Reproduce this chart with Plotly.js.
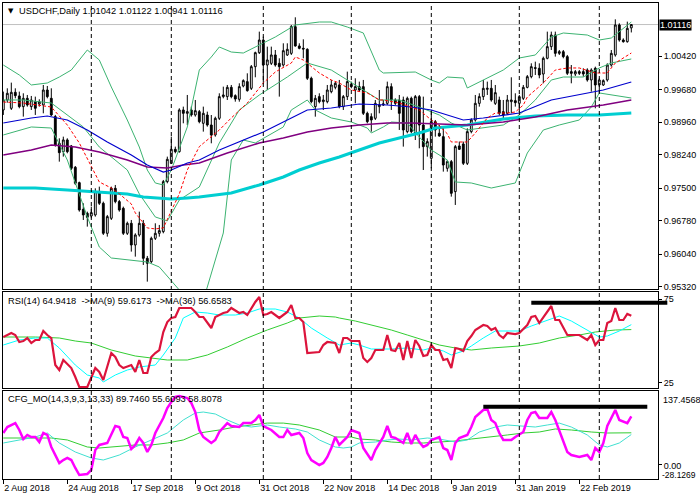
<!DOCTYPE html>
<html><head><meta charset="utf-8">
<script src="https://cdn.plot.ly/plotly-3.0.1.min.js"></script>
<style>html,body{margin:0;padding:0;background:#fff;}#chart{width:700px;height:500px;}</style>
</head><body><div id="chart"></div>
<script>
const symbol = 'USDCHF', timeframe = 'Daily';
const open = [0.99226,0.99447,0.99263,0.99617,0.99536,0.99300,0.99484,0.99300,0.99410,0.99359,
0.99337,0.99668,0.99484,0.99079,0.98489,0.98304,0.98563,0.98430,0.97958,0.97619,
0.97029,0.96940,0.96881,0.96904,0.97420,0.97162,0.96498,0.96830,0.97493,0.97199,
0.97051,0.96498,0.96719,0.96240,0.96461,0.96719,0.95945,0.95871,0.96387,0.96498,
0.96535,0.97641,0.98046,0.98356,0.98304,0.99226,0.99152,0.99226,0.99116,0.99189,
0.98931,0.99115,0.98894,0.98673,0.99042,0.99521,0.99521,0.99727,0.99543,0.99462,
0.99757,0.99853,0.99705,1.00184,1.00494,1.00774,1.00221,1.00258,1.00443,1.00258,
1.00221,1.00443,1.00479,1.01069,1.00642,1.00590,1.00568,0.99927,0.99300,0.99521,
0.99410,0.99410,0.99631,0.99727,0.99779,0.99300,0.99521,0.99794,0.99668,0.99742,
0.99742,0.99152,0.99078,0.99042,0.99300,0.99337,0.99373,0.99742,0.99447,0.99447,
0.99447,0.98747,0.99484,0.98710,0.99521,0.98894,0.98415,0.98157,0.98968,0.98710,
0.98636,0.97936,0.98083,0.97420,0.98430,0.98474,0.98046,0.98747,0.99005,0.99373,
0.99521,0.99683,0.99705,0.99373,0.99447,0.99189,0.99152,0.99410,0.99432,0.99373,
0.99484,0.99727,0.99963,1.00162,1.00148,1.00022,1.00369,1.00627,1.00885,1.00479,
1.00516,1.00406,1.00074,1.00022,1.00074,1.00074,1.00111,0.99890,1.00148,0.99779,
0.99779,0.99890,1.00221,1.00443,1.01106,1.00774,1.00737,1.01042];
const high = [0.99632,0.99705,0.99831,0.99705,0.99632,0.99595,0.99558,0.99536,0.99521,0.99462,
0.99779,0.99757,0.99705,0.99116,0.98599,0.98636,0.98599,0.98452,0.97987,0.97641,
0.97162,0.96977,0.97088,0.97493,0.97530,0.97199,0.96904,0.97530,0.97567,0.97235,
0.97088,0.96756,0.96793,0.96498,0.96977,0.96793,0.95997,0.96424,0.96719,0.96683,
0.97678,0.98194,0.98636,0.98415,0.99263,0.99300,0.99558,0.99300,0.99447,0.99226,
0.99300,0.99189,0.99115,0.99078,0.99595,0.99742,0.99779,0.99779,0.99572,0.99816,
0.99904,1.00037,1.00221,1.00516,1.00959,1.00848,1.00627,1.00627,1.00553,1.00369,
1.00701,1.00701,1.01106,1.01276,1.00701,1.00789,1.00590,0.99963,0.99558,0.99595,
0.99558,0.99779,0.99890,0.99853,0.99890,0.99558,1.00074,0.99853,0.99927,0.99853,
0.99890,0.99189,0.99152,0.99447,0.99668,0.99447,0.99853,0.99816,0.99484,0.99558,
0.99521,0.99521,0.99521,0.99558,0.99558,0.99521,0.98599,0.99226,0.99005,0.98894,
0.98857,0.98120,0.98120,0.98452,0.98526,0.98526,0.98820,0.99042,0.99558,0.99595,
0.99890,0.99853,0.99890,0.99779,0.99521,0.99447,0.99558,0.99949,0.99595,0.99558,
0.99779,1.00000,1.00258,1.00295,1.00258,1.00406,1.00959,1.00959,1.00959,1.00553,
1.00553,1.00443,1.00221,1.00111,1.00111,1.00148,1.00148,1.00148,1.00184,0.99927,
0.99904,1.00258,1.00553,1.01231,1.01143,1.00811,1.01180,1.01122];
const low = [0.99116,0.99388,0.99226,0.99484,0.99263,0.99079,0.99300,0.99226,0.99116,0.99300,
0.99152,0.99484,0.99093,0.98415,0.98083,0.98194,0.98268,0.97899,0.97567,0.96977,
0.96793,0.96646,0.96830,0.96867,0.97125,0.96461,0.96424,0.96793,0.97162,0.96977,
0.96461,0.96461,0.96093,0.95982,0.96424,0.95798,0.95429,0.95835,0.96350,0.96424,
0.96498,0.97604,0.98032,0.98268,0.98282,0.98931,0.98894,0.99079,0.99079,0.98931,
0.98747,0.98857,0.98489,0.98636,0.99005,0.99484,0.99447,0.99484,0.99410,0.99410,
0.99727,0.99631,0.99668,0.99949,1.00465,0.99816,0.99668,1.00221,1.00184,0.99521,
1.00184,1.00420,1.00443,1.00627,1.00568,1.00369,0.99890,0.99373,0.99078,0.99373,
0.99226,0.99373,0.99595,0.99683,0.99263,0.99226,0.99447,0.99705,0.99373,0.99631,
0.99115,0.98931,0.98747,0.99005,0.99152,0.99314,0.99337,0.99226,0.99337,0.98784,
0.98415,0.98710,0.98710,0.98562,0.98378,0.97899,0.98194,0.97936,0.98636,0.98636,
0.97862,0.97862,0.97309,0.97125,0.98341,0.98009,0.98009,0.98710,0.98968,0.99300,
0.99447,0.99558,0.99410,0.99337,0.99115,0.99042,0.99115,0.99152,0.99300,0.99189,
0.99447,0.99705,0.99927,1.00000,0.99927,0.99816,1.00347,1.00553,1.00406,1.00443,
1.00369,1.00000,0.99816,0.99978,1.00000,0.99963,0.99853,0.99631,0.99263,0.99595,
0.99757,0.99853,1.00184,1.00406,1.00737,1.00715,1.00715,1.00941];
const close = [0.99447,0.99595,0.99617,0.99543,0.99300,0.99484,0.99337,0.99447,0.99263,0.99410,
0.99668,0.99521,0.99116,0.98452,0.98282,0.98563,0.98304,0.97936,0.97604,0.97014,
0.96904,0.96852,0.96955,0.97420,0.97162,0.96498,0.96867,0.97493,0.97199,0.97014,
0.96498,0.96719,0.96240,0.96461,0.96719,0.95945,0.95835,0.96387,0.96498,0.96557,
0.97641,0.98135,0.98356,0.98304,0.99226,0.99152,0.99189,0.99116,0.99211,0.98968,
0.99152,0.98894,0.98673,0.99042,0.99521,0.99558,0.99727,0.99521,0.99469,0.99742,
0.99875,0.99654,1.00184,1.00494,1.00774,1.00221,1.00332,1.00443,1.00221,1.00184,
1.00538,1.00568,1.01069,1.00642,1.00590,1.00575,0.99927,0.99410,0.99484,0.99410,
0.99447,0.99668,0.99779,0.99816,0.99300,0.99521,0.99853,0.99742,0.99742,0.99668,
0.99152,0.98968,0.99005,0.99373,0.99337,0.99359,0.99742,0.99447,0.99373,0.99152,
0.98784,0.99484,0.98747,0.99521,0.98894,0.98415,0.98526,0.98968,0.98784,0.98651,
0.98009,0.98083,0.97383,0.98415,0.98356,0.98046,0.98747,0.99005,0.99373,0.99521,
0.99705,0.99705,0.99447,0.99609,0.99152,0.99115,0.99447,0.99447,0.99388,0.99521,
0.99727,0.99963,1.00184,1.00148,1.00000,1.00369,1.00627,1.00885,1.00479,1.00516,
1.00406,1.00037,1.00037,1.00074,1.00037,1.00022,0.99890,1.00111,0.99779,0.99890,
0.99875,1.00221,1.00479,1.01106,1.00774,1.00737,1.01032,1.01116];

// x axis: trading-day index, labels every 16 bars, month separators
const tickBars = [0,16,32,48,64,80,96,112,128,144];
const tickLabels = ['2 Aug 2018','24 Aug 2018','17 Sep 2018','9 Oct 2018','31 Oct 2018','22 Nov 2018','14 Dec 2018','9 Jan 2019','31 Jan 2019','22 Feb 2019'];
const monthStartBars = [22,42,65,87,107,129,149];
const priceTicks = [0.95320,0.96040,0.96780,0.97500,0.98240,0.98960,0.99680,1.00420];
const rsiTicks = [25,75];

// indicators: [bar, value]
const bbUpper = [[0,1.00221],[4,1.00000],[7,0.99779],[11,0.99823],[14,0.99955],[17,1.00110],[19,1.00332],[21,1.00553],[24,1.00332],[27,0.99734],[31,0.99004],[34,0.98407],[36,0.97898],[38,0.97611],[40,0.97567],[42,0.97898],[46,0.98850],[49,1.00110],[52,1.00398],[54,1.00619],[57,1.00508],[60,1.00486],[64,1.00663],[68,1.00840],[73,1.01106],[79,1.01172],[82,1.01172],[86,1.01061],[90,1.00929],[94,1.00110],[95,1.00044],[103,1.00066],[107,0.99889],[109,0.99823],[111,0.99955],[115,0.99933],[116,0.99712],[120,0.99889],[125,1.00110],[129,1.00376],[133,1.00442],[137,1.00840],[140,1.00929],[146,1.00884],[149,1.00774],[152,1.00818],[157,1.01172]];
const bbMiddle = [[0,0.99447],[5,0.99447],[12,0.99380],[20,0.98850],[24,0.98407],[31,0.97898],[34,0.97370],[38,0.96859],[41,0.96772],[44,0.97235],[49,0.97522],[54,0.98496],[59,0.99226],[64,0.99557],[71,0.99955],[76,1.00265],[82,1.00110],[86,0.99889],[91,0.99602],[94,0.99447],[99,0.99447],[104,0.99292],[109,0.99115],[112,0.98938],[116,0.98783],[120,0.98827],[125,0.98894],[129,0.99115],[133,0.99447],[137,0.99889],[140,0.99955],[145,0.99955],[149,1.00155],[152,1.00265],[157,1.00354]];
const bbLower = [[0,0.98673],[4,0.98783],[7,0.98850],[12,0.98827],[16,0.98120],[21,0.96859],[24,0.96195],[27,0.95952],[32,0.95907],[36,0.95863],[39,0.95753],[44,0.95244],[47,0.94580],[50,0.95022],[51,0.95310],[55,0.96505],[57,0.98120],[60,0.98562],[63,0.98496],[70,0.98850],[72,0.99226],[76,0.99447],[78,0.99226],[82,0.99049],[87,0.98960],[91,0.98827],[92,0.98717],[95,0.98850],[97,0.98960],[101,0.98938],[104,0.98628],[107,0.98341],[111,0.98120],[113,0.97633],[117,0.97611],[122,0.97500],[128,0.97611],[131,0.98274],[135,0.98783],[139,0.98894],[144,0.99004],[147,0.99292],[149,0.99602],[152,0.99557],[157,0.99491]];
const maFast = [[0,0.99402],[5,0.99380],[12,0.99292],[16,0.98894],[19,0.98496],[22,0.97965],[24,0.97633],[27,0.97500],[29,0.97370],[32,0.97148],[33,0.96949],[36,0.96617],[38,0.96595],[40,0.96617],[42,0.96994],[44,0.97370],[46,0.97898],[49,0.98415],[50,0.98489],[54,0.98783],[57,0.99050],[61,0.99380],[63,0.99600],[65,0.99823],[68,1.00066],[72,1.00265],[73,1.00398],[75,1.00332],[79,1.00044],[82,0.99889],[84,0.99823],[87,0.99668],[91,0.99602],[94,0.99447],[95,0.99447],[99,0.99380],[104,0.99226],[107,0.99004],[108,0.98960],[111,0.98700],[112,0.98518],[116,0.98518],[118,0.98717],[121,0.99049],[123,0.99159],[126,0.99159],[128,0.99181],[130,0.99336],[131,0.99513],[133,0.99668],[135,0.99823],[138,1.00110],[141,1.00155],[144,1.00155],[148,1.00044],[151,1.00044],[153,1.00265],[157,1.00486]];
const maMid = [[0,0.98938],[7,0.99049],[11,0.99093],[16,0.99004],[21,0.98783],[26,0.98518],[32,0.98230],[36,0.98009],[40,0.97854],[42,0.97898],[46,0.98053],[49,0.98120],[54,0.98341],[60,0.98562],[65,0.98739],[71,0.99004],[76,0.99226],[82,0.99270],[89,0.99358],[96,0.99336],[102,0.99292],[107,0.99226],[111,0.99115],[115,0.99004],[120,0.99049],[129,0.99159],[137,0.99447],[144,0.99557],[150,0.99668],[157,0.99845]];
const maSlow = [[0,0.98230],[7,0.98341],[12,0.98451],[18,0.98407],[24,0.98296],[31,0.98120],[36,0.97965],[41,0.97943],[45,0.98009],[49,0.98053],[56,0.98274],[64,0.98496],[70,0.98606],[76,0.98739],[82,0.98827],[89,0.98894],[96,0.98938],[102,0.98938],[109,0.98916],[116,0.98894],[125,0.98960],[133,0.99071],[141,0.99226],[150,0.99336],[157,0.99447]];
const ma200 = [[0,0.97500],[8,0.97500],[16,0.97456],[24,0.97412],[31,0.97367],[35,0.97301],[39,0.97279],[42,0.97257],[46,0.97279],[49,0.97301],[57,0.97390],[64,0.97567],[70,0.97744],[74,0.97898],[79,0.98053],[84,0.98186],[89,0.98341],[94,0.98496],[99,0.98606],[104,0.98717],[108,0.98827],[116,0.98894],[125,0.99026],[133,0.99093],[141,0.99115],[149,0.99115],[157,0.99159]];

const rsi = [[0,52.2],[2,54.6],[3,53.4],[4,49.2],[5,49.8],[6,51.6],[7,48.6],[8,50.4],[9,50.4],[10,55.8],[11,53.4],[12,51.6],[13,35.4],[14,32.4],[15,38.4],[17,33.6],[18,28.2],[19,22.2],[21,22.2],[23,33.6],[24,31.2],[25,26.4],[27,42.6],[28,40.2],[29,35.4],[30,33.6],[32,35.4],[33,31.2],[34,38.4],[35,30.6],[36,30.6],[37,40.2],[38,42.6],[39,44.4],[40,55.2],[41,61.2],[42,63.6],[43,64.2],[44,69.6],[47,69.6],[48,67.2],[49,64.2],[50,64.2],[52,57.6],[53,64.2],[55,66.6],[56,67.2],[57,69.6],[59,66.6],[60,67.2],[61,65.4],[63,73.2],[64,76.2],[65,65.4],[66,66.0],[67,67.2],[69,63.6],[70,65.4],[71,67.2],[72,71.4],[73,63.6],[74,63.6],[75,61.2],[76,42.6],[78,43.2],[79,43.2],[80,47.4],[81,49.2],[83,48.6],[84,42.6],[85,51.6],[86,51.6],[87,49.8],[89,49.8],[90,39.6],[91,37.2],[92,39.6],[93,44.4],[95,44.4],[96,53.4],[97,44.4],[98,43.8],[99,48.6],[100,38.4],[101,49.8],[102,39.6],[103,50.4],[104,46.8],[105,40.8],[106,41.4],[107,47.4],[108,44.4],[109,44.4],[110,38.4],[111,39.0],[112,33.6],[113,45.6],[114,45.0],[115,43.8],[116,49.8],[117,52.8],[118,56.4],[120,59.4],[121,58.8],[122,56.4],[123,57.6],[124,53.4],[125,51.6],[126,54.6],[128,54.0],[129,54.6],[131,59.4],[132,64.2],[133,64.8],[134,60.6],[137,70.8],[138,62.4],[139,62.4],[141,53.4],[143,53.4],[144,53.4],[146,50.4],[147,53.4],[148,47.4],[149,50.4],[150,50.4],[151,60.6],[152,61.8],[153,69.6],[154,62.4],[155,62.4],[156,66.0],[157,64.9418]];
const rsiMa9 = [[0,47.4],[4,50.4],[8,51.6],[11,51.6],[14,45.6],[18,35.4],[21,29.4],[24,27.6],[25,25.2],[28,29.4],[31,32.4],[34,34.2],[38,35.4],[40,41.4],[43,51.6],[45,63.6],[48,67.2],[51,66.6],[54,65.4],[58,65.4],[61,66.6],[64,69.0],[68,69.0],[71,67.2],[74,63.6],[77,57.6],[81,51.6],[84,47.4],[87,48.6],[89,47.4],[92,45.0],[97,45.0],[101,45.6],[105,44.4],[107,45.6],[110,43.8],[112,41.4],[115,43.8],[117,46.8],[120,51.6],[123,55.8],[127,55.8],[129,55.8],[132,58.8],[136,62.4],[139,64.8],[142,61.8],[146,56.4],[149,52.2],[151,52.8],[154,55.8],[157,59.6173]];
const rsiMa36 = [[0,52.2],[8,52.2],[14,51.6],[18,49.8],[22,48.6],[27,44.4],[33,40.8],[37,39.6],[41,38.4],[46,38.4],[51,41.4],[56,46.2],[61,51.6],[66,56.4],[71,60.6],[74,63.6],[79,64.8],[83,64.2],[84,63.6],[88,61.8],[92,59.4],[97,56.4],[101,53.4],[105,50.4],[109,47.4],[113,45.6],[117,44.4],[122,45.6],[129,46.8],[134,48.6],[139,51.6],[144,53.4],[148,55.2],[153,56.4],[157,56.6583]];

const cfgMain = [[0,58.4],[1,69.7],[3,77.1],[4,64.1],[5,47.1],[6,54.7],[7,50.9],[8,50.9],[9,41.5],[10,58.4],[11,54.7],[12,32.1],[14,2.0],[15,7.6],[16,11.4],[17,7.6],[18,-7.4],[19,-20.6],[21,-18.7],[22,-11.2],[23,26.4],[24,35.9],[26,39.6],[28,71.6],[29,69.7],[30,50.9],[31,49.0],[32,28.3],[33,35.9],[34,49.0],[35,39.6],[36,22.7],[37,35.9],[38,58.4],[40,86.6],[41,105.5],[42,116.8],[43,126.2],[44,128.0],[46,124.3],[47,114.9],[48,97.9],[49,64.1],[50,50.9],[52,39.6],[53,45.3],[54,60.3],[56,77.1],[57,71.6],[59,69.7],[60,77.1],[62,77.1],[63,82.9],[64,92.3],[65,71.6],[67,64.1],[69,50.9],[70,50.9],[71,64.1],[72,54.7],[74,58.4],[75,49.0],[76,20.8],[77,7.6],[79,-1.8],[80,2.0],[81,13.3],[82,30.2],[83,50.9],[84,35.9],[86,50.9],[87,64.1],[89,58.4],[90,30.2],[92,7.6],[93,26.4],[95,50.9],[96,71.6],[97,50.9],[98,49.0],[100,39.6],[101,58.4],[102,37.7],[103,54.7],[104,41.5],[105,32.1],[106,35.9],[107,45.3],[109,50.9],[110,30.2],[111,26.4],[112,7.6],[113,39.6],[114,49.0],[116,54.7],[117,69.7],[118,88.5],[120,101.7],[121,103.6],[122,82.9],[123,77.1],[124,58.4],[125,45.3],[127,45.3],[128,50.9],[130,60.3],[131,82.9],[132,96.1],[133,97.9],[134,86.6],[136,86.6],[137,97.9],[138,82.9],[139,64.1],[140,41.5],[141,22.7],[142,17.0],[144,13.3],[146,17.0],[147,7.6],[148,30.2],[149,22.7],[150,39.6],[151,71.6],[153,101.7],[154,82.9],[156,77.1],[157,89.7460]];
const cfgSignal = [[0,39.6],[4,45.3],[8,50.9],[11,58.4],[14,39.6],[18,22.7],[22,11.4],[25,7.6],[29,17.0],[33,32.1],[37,45.3],[41,58.4],[45,82.9],[48,96.1],[50,97.9],[53,94.2],[56,82.9],[59,73.5],[62,69.7],[66,73.5],[69,69.7],[73,66.0],[76,60.3],[79,45.3],[83,32.1],[85,30.2],[87,32.1],[89,39.6],[93,41.5],[96,45.3],[99,47.1],[102,45.3],[106,49.0],[109,47.1],[113,41.5],[116,45.3],[119,60.3],[123,69.7],[126,73.5],[129,71.6],[133,69.7],[136,73.5],[139,77.1],[142,69.7],[146,54.7],[149,35.9],[151,32.1],[154,39.6],[157,55.6093]];
const cfgSlow = [[0,49.0],[8,49.0],[12,49.0],[16,45.3],[21,32.1],[24,30.2],[29,33.9],[33,35.9],[37,35.9],[41,39.6],[45,45.3],[49,58.4],[54,64.1],[58,69.7],[62,73.5],[66,77.1],[70,77.1],[74,73.5],[79,64.1],[83,50.9],[87,50.9],[89,47.1],[93,45.3],[97,41.5],[101,39.6],[105,39.6],[109,41.5],[113,43.4],[117,47.1],[122,50.9],[126,54.7],[130,58.4],[134,60.3],[138,66.0],[142,64.1],[147,60.3],[151,58.4],[157,58.8078]];
const cfgRange = [-28.1269, 137.4568];
const rsiLevel = [132, 166, 72.8];   // drawn horizontal line: from bar, to bar, value
const cfgLevel = [120, 161, 108.0];

const FONT = '"Liberation Sans", Arial, sans-serif';
const bars = close.map((_, i) => i);
const last = close.length - 1;
const xr = [-0.075, 163.675];
const toPaperX = b => (b - xr[0]) / (xr[1] - xr[0]);

function line(pairs, xa, ya, color, width, dash) {
  return {type:'scatter', mode:'lines', x:pairs.map(p=>p[0]), y:pairs.map(p=>p[1]),
    xaxis:xa, yaxis:ya, line:{color:color, width:width, dash:dash||'solid'}, hoverinfo:'skip'};
}

const traces = [
  line(bbUpper,'x','y','#3cb371',1),
  line(bbMiddle,'x','y','#3cb371',1),
  line(bbLower,'x','y','#3cb371',1),
  line(ma200,'x','y','#00ced1',3),
  line(maSlow,'x','y','#800080',1.5),
  line(maMid,'x','y','#0000cd',1.2),
  line(maFast,'x','y','#ff0000',1,'3px,2px'),
  {type:'candlestick', x:bars, open:open, high:high, low:low, close:close, xaxis:'x', yaxis:'y',
   increasing:{line:{color:'#000', width:1}, fillcolor:'#ffffff'},
   decreasing:{line:{color:'#000', width:1}, fillcolor:'#000000'},
   whiskerwidth:0, hoverinfo:'skip'},
  line(rsiMa36,'x2','y2','#32cd32',1),
  line(rsiMa9,'x2','y2','#00ffff',1),
  line(rsi,'x2','y2','#dc143c',2.2),
  line(cfgSlow,'x3','y3','#32cd32',1),
  line(cfgSignal,'x3','y3','#40e0d0',1),
  line(cfgMain,'x3','y3','#ff00ff',2.5)
];

const baseX = {range:xr, showgrid:false, zeroline:false, showline:true, mirror:true,
  linecolor:'#000', linewidth:1, showticklabels:false, ticks:'', fixedrange:true, rangeslider:{visible:false}};
const baseY = {side:'right', showgrid:false, zeroline:false, showline:true, mirror:true,
  linecolor:'#000', linewidth:1, ticks:'outside', ticklen:3, tickcolor:'#000', fixedrange:true,
  tickfont:{family:FONT, size:9, color:'#000'}};

const shapes = monthStartBars.map(b => ({type:'line', xref:'x', yref:'paper', x0:b, x1:b, y0:0, y1:1,
  layer:'above', line:{color:'#000', width:1, dash:'4px,3px'}}));
shapes.push({type:'line', xref:'paper', yref:'y', x0:0, x1:1, y0:close[last], y1:close[last],
  layer:'below', line:{color:'#c0c0c0', width:1}});
shapes.push({type:'line', xref:'paper', yref:'y2', x0:toPaperX(rsiLevel[0]), x1:toPaperX(rsiLevel[1]),
  y0:rsiLevel[2], y1:rsiLevel[2], layer:'above', line:{color:'#000', width:4}});
shapes.push({type:'line', xref:'x3', yref:'y3', x0:cfgLevel[0], x1:cfgLevel[1],
  y0:cfgLevel[2], y1:cfgLevel[2], layer:'above', line:{color:'#000', width:4}});

const f = (v,d) => v.toFixed(d);
const sp = '\u00a0\u00a0';
const annFont = {family:FONT, size:9.3, color:'#000'};
const annotations = [
  {xref:'paper', yref:'y domain', x:0, y:1, xanchor:'left', yanchor:'middle', xshift:3, yshift:-8,
   text:'\u25BC', showarrow:false, font:{family:'DejaVu Sans', size:7, color:'#000'}},
  {xref:'paper', yref:'y domain', x:0, y:1, xanchor:'left', yanchor:'middle', xshift:14, yshift:-8, showarrow:false, font:annFont,
   text: symbol + ',' + timeframe + ' ' + [open[last],high[last],low[last],close[last]].map(v=>f(v,5)).join(' ')},
  {xref:'paper', yref:'y2 domain', x:0, y:1, xanchor:'left', yanchor:'middle', xshift:3, yshift:-9, showarrow:false, font:annFont,
   text:'RSI(14) ' + f(rsi[rsi.length-1][1],4) + sp + '->MA(9) ' + f(rsiMa9[rsiMa9.length-1][1],4) + sp + '->MA(36) ' + f(rsiMa36[rsiMa36.length-1][1],4)},
  {xref:'paper', yref:'y3 domain', x:0, y:1, xanchor:'left', yanchor:'middle', xshift:3, yshift:-8, showarrow:false, font:annFont,
   text:'CFG_MO(14,3,9,3,13,33) ' + f(cfgMain[cfgMain.length-1][1],4) + ' ' + f(cfgSignal[cfgSignal.length-1][1],4) + ' ' + f(cfgSlow[cfgSlow.length-1][1],4)},
  {xref:'paper', yref:'y', x:1, y:close[last], xanchor:'left', yanchor:'middle', xshift:1, showarrow:false,
   text:f(close[last],5), bgcolor:'#000', borderpad:0, font:{family:FONT, size:9, color:'#fff'}},
  {xref:'paper', yref:'y3 domain', x:1, y:1, xanchor:'left', yanchor:'top', xshift:3, yshift:-2, showarrow:false,
   text:f(cfgRange[1],4), font:{family:FONT, size:9, color:'#000'}},
  {xref:'paper', yref:'y3 domain', x:1, y:0, xanchor:'left', yanchor:'bottom', xshift:3, yshift:-2, showarrow:false,
   borderpad:0, text:f(cfgRange[0],4), font:{family:FONT, size:8.5, color:'#000'}}
];

const layout = {
  width:700, height:500, margin:{l:3, r:42, t:3, b:21, pad:0},
  paper_bgcolor:'#ffffff', plot_bgcolor:'rgba(0,0,0,0)', showlegend:false, boxgap:0.35,
  font:{family:FONT, size:9, color:'#000'},
  xaxis: Object.assign({}, baseX, {anchor:'y'}),
  xaxis2: Object.assign({}, baseX, {anchor:'y2'}),
  xaxis3: Object.assign({}, baseX, {anchor:'y3', showticklabels:true, tickvals:tickBars, ticktext:tickLabels,
    ticks:'outside', ticklen:4, tickcolor:'#000', ticklabelposition:'outside right',
    tickfont:{family:FONT, size:9, color:'#000'}}),
  yaxis: Object.assign({}, baseY, {anchor:'x', domain:[190/476, 1], range:[0.952660, 1.015924],
    tickvals:priceTicks, ticktext:priceTicks.map(v=>f(v,5))}),
  yaxis2: Object.assign({}, baseY, {anchor:'x2', domain:[91/476, 187/476], range:[21.61, 79.2],
    tickvals:rsiTicks, ticktext:rsiTicks.map(String)}),
  yaxis3: Object.assign({}, baseY, {anchor:'x3', domain:[0, 88/476], range:cfgRange,
    tickvals:[0], ticktext:['0.00'], ticklabelshift:2}),
  shapes:shapes, annotations:annotations
};
Plotly.newPlot('chart', traces, layout, {displayModeBar:false, staticPlot:true});
</script></body></html>
